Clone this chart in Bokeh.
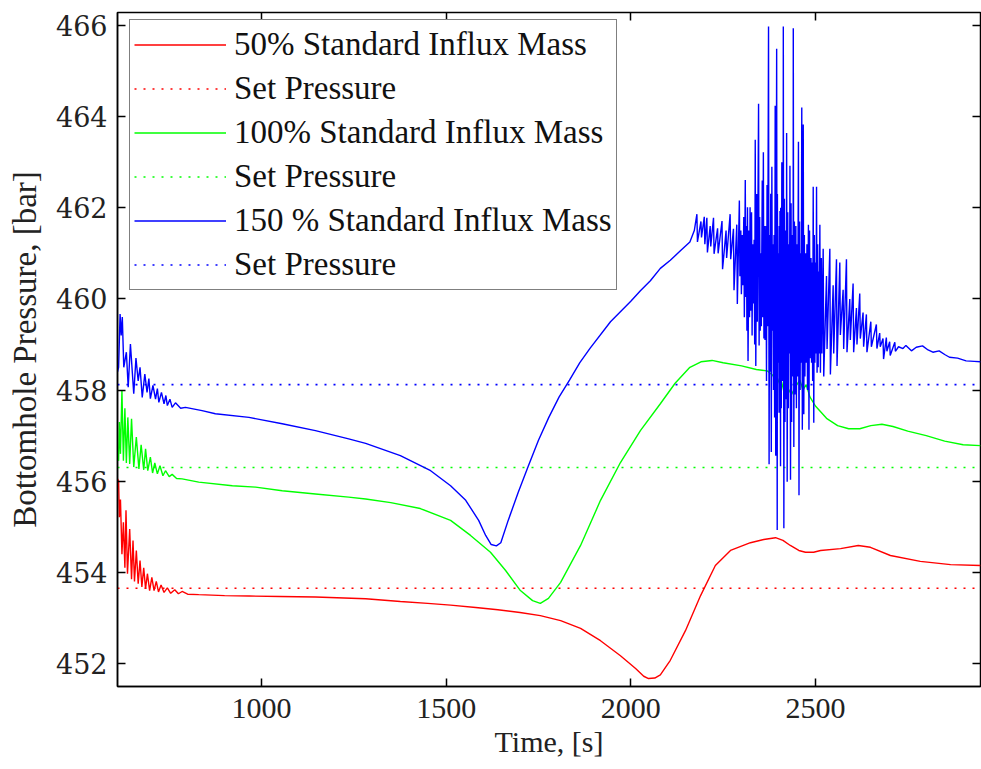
from bokeh.plotting import figure
from bokeh.models import LinearAxis, Legend, LegendItem, FixedTicker, Range1d
from bokeh.embed import file_html
from bokeh.resources import INLINE

# ---------------- data ----------------
x_ticks = [1000, 1500, 2000, 2500]
y_ticks = [452, 454, 456, 458, 460, 462, 464, 466]

series_names = ["50% Standard Influx Mass", "100% Standard Influx Mass", "150 % Standard Influx Mass"]
set_names = ["Set Pressure", "Set Pressure", "Set Pressure"]
set_pressure = [453.65, 456.30, 458.12]
set_t = [610, 2947]

red_t = [610, 613, 615, 618, 622, 626, 630, 633, 637, 643, 648, 652, 656, 661, 666, 671, 676, 681, 686,
         691, 697, 703, 709, 715, 721, 728, 736, 745, 754, 765, 775, 785, 800, 830, 900, 966, 1050, 1146,
         1282, 1376, 1450, 1512, 1580, 1640, 1700, 1755, 1810, 1864, 1918, 1972, 2013, 2035, 2048, 2065,
         2080, 2107, 2148, 2189, 2229, 2270, 2324, 2360, 2392, 2412, 2432, 2455, 2473, 2495, 2514, 2568,
         2616, 2649, 2703, 2784, 2866, 2947]
red_p = [456.05, 456.01, 455.21, 455.60, 454.40, 455.10, 454.10, 455.36, 453.97, 454.95, 453.85, 454.70,
         453.80, 454.48, 453.75, 454.26, 453.68, 454.10, 453.64, 453.97, 453.60, 453.89, 453.60, 453.80,
         453.57, 453.72, 453.56, 453.66, 453.54, 453.62, 453.53, 453.58, 453.52, 453.51, 453.49, 453.48,
         453.47, 453.46, 453.42, 453.36, 453.32, 453.28, 453.23, 453.18, 453.12, 453.05, 452.94, 452.77,
         452.50, 452.17, 451.89, 451.72, 451.67, 451.68, 451.75, 452.07, 452.72, 453.49, 454.15, 454.48,
         454.65, 454.72, 454.76, 454.70, 454.59, 454.48, 454.44, 454.44, 454.48, 454.52, 454.59, 454.55,
         454.37, 454.24, 454.17, 454.15]

green_t = [610, 613, 615, 618, 622, 626, 630, 634, 638, 643, 648, 654, 661, 668, 674, 681, 686, 692, 699,
           705, 711, 718, 725, 733, 740, 750, 758, 770, 785, 830, 921, 984, 1056, 1146, 1236, 1282, 1350,
           1430, 1512, 1566, 1620, 1661, 1701, 1734, 1755, 1777, 1810, 1864, 1918, 1972, 2026, 2080, 2120,
           2160, 2190, 2220, 2250, 2300, 2340, 2370, 2385, 2395, 2405, 2415, 2425, 2435, 2448, 2458, 2466,
           2475, 2485, 2500, 2530, 2560, 2590, 2620, 2650, 2680, 2710, 2750, 2800, 2850, 2900, 2947]
green_p = [456.50, 456.45, 457.30, 456.60, 457.99, 456.45, 457.60, 456.40, 457.40, 456.38, 457.37, 456.31,
           456.97, 456.27, 456.80, 456.25, 456.71, 456.23, 456.53, 456.18, 456.40, 456.16, 456.34, 456.12,
           456.23, 456.10, 456.15, 456.06, 456.05, 455.98, 455.90, 455.87, 455.79, 455.72, 455.65, 455.61,
           455.53, 455.40, 455.14, 454.81, 454.44, 454.04, 453.60, 453.38, 453.32, 453.43, 453.78, 454.59,
           455.58, 456.41, 457.11, 457.70, 458.15, 458.50, 458.62, 458.65, 458.60, 458.53, 458.45, 458.42,
           458.32, 458.10, 458.30, 457.95, 458.05, 457.90, 458.10, 458.22, 458.00, 458.12, 457.85, 457.65,
           457.38, 457.22, 457.15, 457.15, 457.22, 457.25, 457.20, 457.10, 457.00, 456.88, 456.80, 456.78]

blue_t = [610, 613, 617, 620, 623, 627, 634, 639, 645, 654, 660, 666, 671, 677, 684, 690, 695, 699, 706,
          713, 718, 722, 729, 736, 741, 745, 752, 758, 767, 781, 794, 839, 875, 966, 1056, 1146, 1236, 1282,
          1376, 1458, 1512, 1553, 1588, 1607, 1622, 1636, 1648, 1668, 1695, 1722, 1750, 1778, 1806, 1834,
          1862, 1890, 1945, 2000, 2026, 2053, 2080, 2107, 2135, 2160, 2172]
blue_p = [458.40, 458.50, 459.67, 459.20, 459.60, 458.50, 458.83, 458.06, 459.01, 457.92, 458.70, 458.20,
          458.50, 457.84, 458.35, 457.95, 458.25, 457.81, 458.10, 457.80, 458.03, 457.73, 457.95, 457.70,
          457.88, 457.66, 457.80, 457.62, 457.72, 457.60, 457.62, 457.55, 457.48, 457.40, 457.26, 457.11,
          456.93, 456.83, 456.56, 456.23, 455.90, 455.58, 455.14, 454.81, 454.61, 454.58, 454.65, 455.14,
          455.75, 456.32, 456.90, 457.40, 457.85, 458.22, 458.60, 458.92, 459.50, 459.95, 460.18, 460.40,
          460.67, 460.85, 461.06, 461.25, 461.50]

# oscillation band of the 150 % case: time, upper swing, lower swing (large swings)
osc_t = [2179, 2190, 2199, 2206, 2215, 2224, 2235, 2247, 2258, 2269, 2278, 2287, 2294, 2302, 2310, 2316,
         2323, 2330, 2337, 2346, 2352, 2359, 2366, 2373, 2379, 2385, 2391, 2395, 2400, 2404, 2409, 2413,
         2418, 2422, 2431, 2436, 2440, 2447, 2454, 2463, 2467, 2474, 2481, 2488, 2494, 2503, 2508, 2512,
         2521, 2530, 2539, 2548, 2557, 2566, 2575, 2584, 2593, 2602, 2611, 2620, 2629, 2638, 2650, 2665,
         2674, 2683, 2692, 2701, 2715]
osc_top = [461.86, 461.70, 461.80, 461.78, 461.60, 461.78, 461.55, 461.71, 461.50, 461.86, 461.54, 461.63,
           462.16, 461.40, 462.61, 462.01, 462.01, 461.20, 463.49, 464.28, 461.00, 463.22, 461.60, 465.98,
           462.31, 461.20, 464.24, 465.49, 461.00, 461.93, 463.00, 465.98, 461.50, 463.64, 462.92, 461.30,
           465.94, 461.60, 463.45, 464.20, 463.83, 461.00, 461.63, 460.90, 462.46, 462.46, 460.60, 461.63,
           461.10, 460.50, 461.10, 460.30, 460.87, 460.80, 460.20, 460.87, 460.00, 460.34, 459.80, 460.12,
           459.70, 459.66, 459.50, 459.44, 459.25, 459.13, 459.15, 459.06, 459.05]
osc_bot = [461.25, 461.35, 461.20, 461.02, 461.15, 460.99, 461.00, 460.65, 460.90, 460.87, 460.19, 459.89,
           460.50, 460.30, 460.04, 458.64, 459.74, 459.90, 458.53, 458.98, 459.40, 459.13, 458.20, 456.37,
           456.64, 458.00, 456.56, 454.93, 457.50, 456.33, 458.20, 454.97, 457.80, 455.99, 456.03, 458.50,
           456.75, 457.60, 455.69, 457.13, 457.47, 458.60, 457.13, 458.60, 457.28, 458.38, 458.80, 458.38,
           458.30, 458.90, 458.34, 458.80, 458.53, 459.21, 458.90, 458.83, 459.10, 458.83, 459.00, 459.13,
           458.95, 458.83, 458.95, 458.91, 458.95, 458.68, 458.85, 458.76, 458.85]

# smaller swings that fill the dense core of the band (2300-2520 s)
core_t = [2298, 2306, 2313, 2320, 2327, 2334, 2341, 2349, 2356, 2362, 2369, 2376, 2382, 2388, 2397, 2402,
          2406, 2411, 2416, 2420, 2425, 2428, 2434, 2438, 2443, 2450, 2457, 2460, 2470, 2477, 2484, 2491,
          2497, 2500, 2506, 2516]
core_top = [461.50, 461.80, 461.60, 461.50, 461.90, 461.30, 462.30, 461.80, 462.60, 461.60, 462.50, 461.40,
            462.90, 461.40, 462.30, 461.60, 462.00, 461.00, 462.20, 461.00, 461.90, 461.20, 462.10, 461.40,
            461.70, 461.20, 461.70, 461.00, 461.40, 461.20, 461.50, 460.80, 461.40, 460.80, 461.20, 460.90]
core_bot = [460.10, 459.60, 459.30, 459.60, 459.20, 459.00, 459.50, 459.30, 459.60, 459.10, 459.40, 458.40,
            459.30, 457.40, 458.60, 459.00, 457.60, 458.90, 457.30, 458.60, 457.60, 458.80, 457.30, 458.30,
            457.90, 458.30, 458.00, 458.60, 458.30, 458.00, 458.70, 458.20, 458.60, 458.80, 458.50, 458.80]

blue_tail_t = [2725, 2737, 2745, 2760, 2773, 2790, 2805, 2818, 2835, 2850, 2863, 2885, 2908, 2930, 2947]
blue_tail_p = [458.95, 458.91, 458.98, 458.86, 458.94, 458.97, 458.88, 458.83, 458.86, 458.78, 458.72,
               458.70, 458.64, 458.63, 458.62]

colors = ["#ff0000", "#00ff00", "#0000ff"]

# ---------------- build the 150 % series path ----------------
swings = sorted(list(zip(osc_t, osc_top, osc_bot)) + list(zip(core_t, core_top, core_bot)))
b_t = list(blue_t)
b_p = list(blue_p)
for t, hi, lo in swings:
    b_t += [t, t + 1.5]
    b_p += [hi, lo]
b_t += blue_tail_t
b_p += blue_tail_p

# ---------------- figure ----------------
FONT = "Liberation Serif"
p = figure(width=981, height=769, output_backend="svg", toolbar_location=None,
           x_range=Range1d(610, 2947), y_range=Range1d(451.495, 466.285),
           min_border_left=117, min_border_right=1, min_border_top=12, min_border_bottom=83)
p.background_fill_color = "white"
p.border_fill_color = "white"
p.outline_line_color = "black"
p.outline_line_width = 1.5
p.xgrid.visible = False
p.ygrid.visible = False

lw = 1.4
r_red = p.line(red_t, red_p, line_color=colors[0], line_width=lw)
s_red = p.line(set_t, [set_pressure[0]] * 2, line_color=colors[0], line_width=1.6, line_dash="2 7")
r_green = p.line(green_t, green_p, line_color=colors[1], line_width=lw)
s_green = p.line(set_t, [set_pressure[1]] * 2, line_color=colors[1], line_width=1.6, line_dash="2 7")
r_blue = p.line(b_t, b_p, line_color=colors[2], line_width=lw)
s_blue = p.line(set_t, [set_pressure[2]] * 2, line_color=colors[2], line_width=1.6, line_dash="2 7")

# axes
for ax in (p.xaxis[0], p.yaxis[0]):
    ax.major_tick_in = 8
    ax.major_tick_out = 0
    ax.minor_tick_line_color = None
    ax.axis_line_color = "black"
    ax.axis_line_width = 1.5
    ax.major_tick_line_width = 1.5
    ax.major_label_text_color = "#222222"
    ax.axis_label_text_color = "#222222"
    ax.axis_label_text_font_style = "normal"

p.xaxis.ticker = FixedTicker(ticks=x_ticks)
p.yaxis.ticker = FixedTicker(ticks=y_ticks)
p.xaxis.major_label_text_font = FONT
p.xaxis.major_label_text_font_size = "30px"
p.xaxis.major_label_standoff = 12
p.xaxis.axis_label = "Time, [s]"
p.xaxis.axis_label_text_font = FONT
p.xaxis.axis_label_text_font_size = "30px"
p.xaxis.axis_label_standoff = 4

p.yaxis.major_label_text_font = "DejaVu Serif"
p.yaxis.major_label_text_font_size = "27px"
p.yaxis.major_label_standoff = 10
p.yaxis.axis_label = "Bottomhole Pressure, [bar]"
p.yaxis.axis_label_text_font = FONT
p.yaxis.axis_label_text_font_size = "33px"
p.yaxis.axis_label_standoff = 10

# tick marks on the top and right edges (no labels drawn there)
top_ax = LinearAxis(ticker=FixedTicker(ticks=x_ticks), major_label_text_font_size="1px",
                    major_label_text_color=None, major_label_text_alpha=0,
                    major_label_standoff=0, major_tick_in=8, major_tick_out=0,
                    minor_tick_line_color=None, axis_line_color=None, major_tick_line_width=1.5)
right_ax = LinearAxis(ticker=FixedTicker(ticks=y_ticks), major_label_text_font_size="1px",
                      major_label_text_color=None, major_label_text_alpha=0,
                      major_label_standoff=0, major_tick_in=8, major_tick_out=0,
                      minor_tick_line_color=None, axis_line_color=None, major_tick_line_width=1.5)
p.add_layout(top_ax, "above")
p.add_layout(right_ax, "right")

legend = Legend(items=[
    LegendItem(label=series_names[0], renderers=[r_red]),
    LegendItem(label=set_names[0], renderers=[s_red]),
    LegendItem(label=series_names[1], renderers=[r_green]),
    LegendItem(label=set_names[1], renderers=[s_green]),
    LegendItem(label=series_names[2], renderers=[r_blue]),
    LegendItem(label=set_names[2], renderers=[s_blue]),
], location=(12, 396))
legend.label_text_font = FONT
legend.label_text_font_size = "33px"
legend.label_text_color = "#111111"
legend.glyph_width = 92
legend.glyph_height = 41
legend.label_height = 41
legend.spacing = 3
legend.padding = 4
legend.margin = 0
legend.label_standoff = 8
legend.border_line_color = "black"
legend.border_line_width = 1.5
legend.background_fill_color = "white"
legend.background_fill_alpha = 1.0
p.add_layout(legend)

open("out.html", "w").write(file_html(p, INLINE))
